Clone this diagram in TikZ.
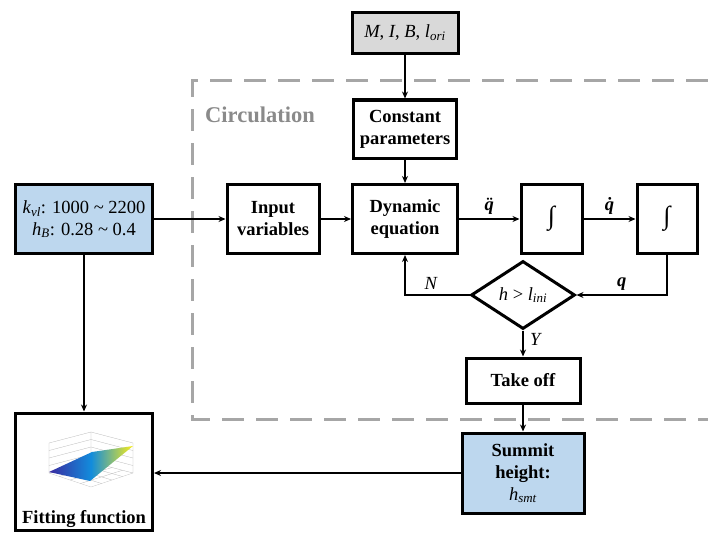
\documentclass[tikz,border=0pt]{standalone}
\usepackage{fontspec}
\setmainfont{Liberation Serif}
\usepackage{amsmath, amssymb}
\usepackage{xcolor}
\usetikzlibrary{arrows.meta, positioning, calc, shapes.geometric}
\definecolor{boxblue}{RGB}{189,215,238}
\definecolor{boxgray}{RGB}{217,217,217}
\definecolor{loopgray}{RGB}{166,166,166}
\definecolor{titlegray}{RGB}{138,138,138}
\definecolor{parulaA}{RGB}{58,42,160}
\definecolor{parulaB}{RGB}{18,140,220}
\definecolor{parulaC}{RGB}{249,236,25}
\pgfdeclarehorizontalshading{parula}{100bp}{color(0bp)=(parulaA); color(25bp)=(parulaA); color(50bp)=(parulaB); color(75bp)=(parulaC); color(100bp)=(parulaC)}
\newcommand{\bigtxt}{\fontsize{18.5}{22}\selectfont}

\begin{document}
\begin{tikzpicture}[x=1pt, y=-1pt,
  block/.style={draw, line width=3pt, align=center, inner sep=0pt, font=\bigtxt\bfseries},
  conn/.style={line width=1.4pt, -{Stealth[length=7pt, width=6pt]}},
  lbl/.style={font=\bigtxt\bfseries\itshape},
  ilbl/.style={font=\bigtxt\itshape}]
  \useasboundingbox (0,0) rectangle (708,532);
  % Circulation frame
  \draw[loopgray, line width=3pt, dash pattern=on 22pt off 12pt] (708,81) -- (192,81) -- (192,419) -- (708,419);
  \node[titlegray, font=\fontsize{22.5}{24}\selectfont\bfseries] (circ) at (260,115) {Circulation};
  % Blocks
  \node[block, fill=boxgray, font=\bigtxt, minimum width=106pt, minimum height=41pt] (consts) at (405,33)
    {\textit{M}, \textit{I}, \textit{B}, \textit{l}\textsubscript{\textit{ori}}};
  \node[block, minimum width=103pt, minimum height=58pt] (param) at (405,129) {Constant\\parameters};
  \node[block, minimum width=105pt, minimum height=69pt] (dyn) at (405,219) {Dynamic\\equation};
  \node[block, minimum width=92pt, minimum height=69pt] (input) at (273,219) {Input\\variables};
  \node[block, fill=boxblue, font=\bigtxt, minimum width=137pt, minimum height=69pt] (range) at (84,219)
    {\textit{k}\textsubscript{\textit{vl}}: 1000 \textasciitilde{} 2200\\\textit{h}\textsubscript{\textit{B}}: 0.28 \textasciitilde{} 0.4};
  \node[block, font=\fontsize{26}{28}\selectfont, minimum width=61pt, minimum height=69pt] (int1) at (551.5,219) {∫};
  \node[block, font=\fontsize{26}{28}\selectfont, minimum width=60pt, minimum height=69pt] (int2) at (667,219) {∫};
  \node[block, diamond, font=\bigtxt, minimum width=104pt, minimum height=68pt] (check) at (523,295)
    {\textit{h} > \textit{l}\textsubscript{\textit{ini}}};
  \node[block, minimum width=114pt, minimum height=45pt] (takeoff) at (523,380.5) {Take off};
  \node[block, fill=boxblue, minimum width=122pt, minimum height=80pt] (summit) at (523,473)
    {Summit\\height:\\{\mdseries\textit{h}\textsubscript{\textit{smt}}}};
  \node[block, minimum width=137pt, minimum height=117pt] (fit) at (84,471.5) {};
  \node[font=\bigtxt\bfseries, anchor=base] (fittxt) at (84,523) {Fitting function};
  % Surface plot inside the fitting box
  \begin{scope}[line width=0.3pt, gray!55]
    \draw (49,443) -- (91,432) -- (91,462) -- (49,473) -- cycle;
    \draw (91,432) -- (133,443) -- (133,473) -- (91,462);
    \draw (49,473) -- (91,487) -- (133,473);
    \foreach \t in {0.25,0.5,0.75}{
      \draw ($(49,443)!\t!(49,473)$) -- ($(91,432)!\t!(91,462)$) -- ($(133,443)!\t!(133,473)$);
      \draw ($(49,473)!\t!(91,462)$) -- ($(91,487)!\t!(133,473)$);
      \draw ($(49,473)!\t!(91,487)$) -- ($(91,462)!\t!(133,473)$);
    }
  \end{scope}
  \shade[shading=parula] (49,472) -- (90,481) -- (133,446) -- (92,452) -- cycle;
  % Connectors
  \draw[conn] (consts) -- (param);
  \draw[conn] (param) -- (dyn);
  \draw[conn] (range) -- (input);
  \draw[conn] (input) -- (dyn);
  \draw[conn] (dyn) -- node[above=1pt, lbl] {q^^^^0308} (int1);
  \draw[conn] (int1) -- node[above=1pt, lbl] {q^^^^0307} (int2);
  \draw[conn] (int2.south) |- node[pos=0.75, above=1pt, lbl] {q} (check.east);
  \draw[conn] (check.west) -| node[pos=0.3, above=1pt, ilbl] {N} (dyn.south);
  \draw[conn] (check.south) -- node[pos=0.35, right=3pt, ilbl] {Y} (takeoff.north);
  \draw[conn] (takeoff) -- (summit);
  \draw[conn] (summit.west) -- (summit.west -| fit.east);
  \draw[conn] (range) -- (fit);
\end{tikzpicture}
\end{document}
